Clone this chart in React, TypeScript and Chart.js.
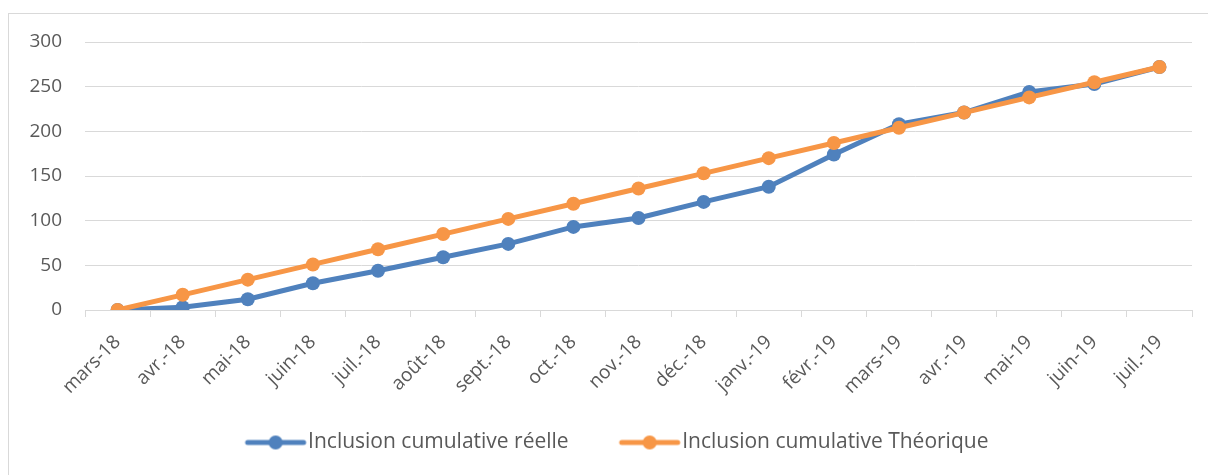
import React, { useEffect, useRef } from 'react';
import { Chart, registerables } from 'chart.js';

Chart.register(...registerables);

const categories = [
  'mars-18', 'avr.-18', 'mai-18', 'juin-18', 'juil.-18', 'août-18', 'sept.-18', 'oct.-18', 'nov.-18',
  'déc.-18', 'janv.-19', 'févr.-19', 'mars-19', 'avr.-19', 'mai-19', 'juin-19', 'juil.-19',
];
const reelle = [0, 3, 12, 30, 44, 59, 74, 93, 103, 121, 138, 174, 208, 221, 244, 253, 272];
const theorique = [0, 17, 34, 51, 68, 85, 102, 119, 136, 153, 170, 187, 204, 221, 238, 255, 272];
const seriesNames = ['Inclusion cumulative réelle', 'Inclusion cumulative Théorique'];
const yMin = 0;
const yMax = 300;
const yStep = 50;

const BLUE = '#4F81BD';
const ORANGE = '#F79646';
const TEXT = '#595959';
const GRID = '#D9D9D9';
const FONT = "'Open Sans', sans-serif";

function legendMarker(color: string): HTMLCanvasElement {
  const c = document.createElement('canvas');
  c.width = 80;
  c.height = 16;
  const ctx = c.getContext('2d')!;
  ctx.strokeStyle = color;
  ctx.lineWidth = 5;
  ctx.lineCap = 'round';
  ctx.beginPath();
  ctx.moveTo(16, 8);
  ctx.lineTo(72, 8);
  ctx.stroke();
  ctx.fillStyle = color;
  ctx.beginPath();
  ctx.arc(44, 8, 7, 0, Math.PI * 2);
  ctx.fill();
  return c;
}

const shiftLegend = {
  id: 'shiftLegend',
  afterLayout(chart: any) {
    if (chart.legend) chart.legend.left = 33;
  },
};

export default function App() {
  const ref = useRef<HTMLCanvasElement | null>(null);

  useEffect(() => {
    if (!ref.current) return;
    const colors = [BLUE, ORANGE];
    const chart = new Chart(ref.current, {
      type: 'line',
      plugins: [shiftLegend],
      data: {
        labels: categories,
        datasets: [
          {
            label: seriesNames[0],
            data: reelle,
            borderColor: BLUE,
            backgroundColor: BLUE,
            borderWidth: 5,
            pointRadius: 7,
            pointBorderWidth: 0,
            pointBackgroundColor: BLUE,
            tension: 0,
            order: 1,
          },
          {
            label: seriesNames[1],
            data: theorique,
            borderColor: ORANGE,
            backgroundColor: ORANGE,
            borderWidth: 5,
            pointRadius: 7,
            pointBorderWidth: 0,
            pointBackgroundColor: ORANGE,
            tension: 0,
            order: 0,
          },
        ],
      },
      options: {
        responsive: false,
        animation: false,
        devicePixelRatio: 1,
        layout: { padding: { top: 28, right: 16, left: 0, bottom: 12 } },
        plugins: {
          tooltip: { enabled: false },
          legend: {
            position: 'bottom',
            labels: {
              usePointStyle: true,
              pointStyleWidth: 52,
              padding: 51,
              color: TEXT,
              font: { family: FONT, size: 21 },
              generateLabels: () =>
                seriesNames.map((name, i) => ({
                  text: name,
                  fillStyle: colors[i],
                  strokeStyle: colors[i],
                  lineWidth: 0,
                  pointStyle: legendMarker(colors[i]) as any,
                  datasetIndex: i,
                  hidden: false,
                  fontColor: TEXT,
                })),
            },
          },
        },
        scales: {
          x: {
            offset: true,
            grid: {
              drawOnChartArea: false,
              drawTicks: true,
              tickLength: 7,
              color: GRID,
              offset: true,
            },
            border: { display: true, color: GRID, width: 1 },
            ticks: {
              autoSkip: false,
              minRotation: 45,
              maxRotation: 45,
              color: TEXT,
              font: { family: FONT, size: 19 },
              padding: 14,
            },
            afterFit: (s: any) => {
              s.height = 71;
              s.paddingLeft = 0;
              s.paddingRight = 0;
              s._computeLabelArea = () => undefined;
            },
          },
          y: {
            min: yMin,
            max: yMax,
            ticks: {
              stepSize: yStep,
              color: TEXT,
              font: { family: FONT, size: 19 },
              padding: 23,
            },
            grid: { color: GRID, lineWidth: 1, drawTicks: false },
            border: { display: false },
            afterFit: (s: any) => {
              s.width = 76;
              s.paddingTop = 0;
              s.paddingBottom = 0;
            },
          },
        },
      },
    });
    return () => chart.destroy();
  }, []);

  return (
    <div
      style={{
        position: 'absolute',
        left: 8,
        top: 13,
        width: 1200,
        height: 462,
        borderLeft: `1px solid ${GRID}`,
        borderTop: `1px solid ${GRID}`,
        boxSizing: 'border-box',
        background: '#fff',
      }}
    >
      <canvas ref={ref} width={1199} height={461} style={{ display: 'block' }} />
    </div>
  );
}
